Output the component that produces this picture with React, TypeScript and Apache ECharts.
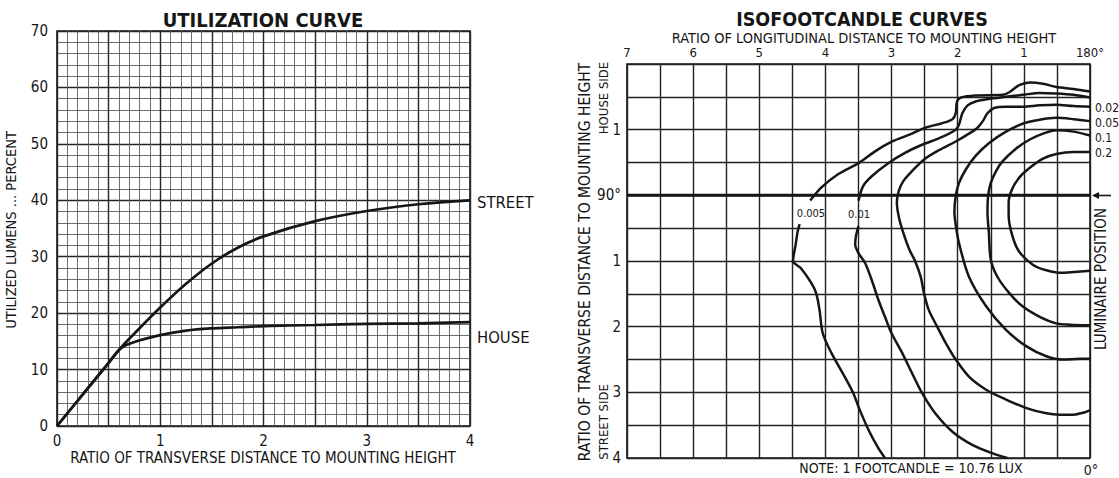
import React, { useEffect, useRef } from 'react';
import * as echarts from 'echarts';

const FONT = "'Liberation Sans Narrow', 'DejaVu Sans Condensed', 'Liberation Sans', sans-serif";
const INK = '#161616';

// ---------- Utilization curve ----------
const utilX = [0, 0.25, 0.5, 0.62, 0.75, 1, 1.25, 1.5, 1.75, 2, 2.5, 3, 3.5, 4];
const streetY = [0, 5.6, 11.2, 13.9, 16.4, 21, 25.2, 28.8, 31.6, 33.6, 36.3, 38.1, 39.3, 40];
const houseY = [0, 5.6, 11.2, 13.8, 14.9, 16.1, 16.9, 17.3, 17.5, 17.7, 17.9, 18.1, 18.2, 18.4];

// ---------- Isofootcandle curves: [longitudinal ratio, transverse ratio] (negative = house side) ----------
const iso0005Upper = [[0, -1.58], [0.25, -1.62], [0.51, -1.65], [0.71, -1.7], [0.91, -1.72], [1.07, -1.68], [1.22, -1.57], [1.32, -1.53], [1.73, -1.52], [1.95, -1.49], [2.01, -1.43], [2.03, -1.25], [2.08, -1.16], [2.23, -1.1], [2.49, -1.03], [2.74, -0.92], [2.99, -0.82], [3.25, -0.67], [3.5, -0.49], [3.81, -0.32], [4.06, -0.12], [4.23, 0.08]];
const iso0005Lower = [[4.39, 0.44], [4.42, 0.55], [4.45, 0.75], [4.49, 1.0], [4.37, 1.11], [4.21, 1.34], [4.14, 1.49], [4.09, 1.74], [4.04, 2.1], [3.91, 2.4], [3.71, 2.76], [3.58, 3.01], [3.5, 3.22], [3.35, 3.57], [3.2, 3.85], [3.1, 4.0]];
const iso001Upper = [[0, -1.49], [0.25, -1.53], [0.51, -1.55], [0.76, -1.56], [1.02, -1.53], [1.27, -1.5], [1.52, -1.47], [1.73, -1.43], [1.85, -1.37], [1.93, -1.25], [1.98, -1.08], [2.03, -1.0], [2.28, -0.87], [2.54, -0.77], [2.79, -0.65], [3.05, -0.49], [3.3, -0.29], [3.43, -0.14], [3.5, 0.08]];
const iso001Lower = [[3.5, 0.47], [3.54, 0.63], [3.55, 0.75], [3.5, 0.88], [3.4, 1.03], [3.3, 1.29], [3.2, 1.59], [3.1, 1.85], [3.0, 2.1], [2.84, 2.4], [2.69, 2.71], [2.54, 3.01], [2.34, 3.32], [2.08, 3.6], [1.78, 3.8], [1.47, 3.93], [1.25, 4.0]];
const iso002 = [[0, -1.35], [0.25, -1.36], [0.51, -1.38], [0.76, -1.37], [1.02, -1.35], [1.27, -1.35], [1.45, -1.33], [1.55, -1.25], [1.62, -1.13], [1.7, -1.03], [1.83, -0.94], [2.03, -0.82], [2.28, -0.69], [2.49, -0.56], [2.69, -0.37], [2.82, -0.22], [2.89, -0.07], [2.92, 0.11], [2.89, 0.33], [2.82, 0.58], [2.73, 0.83], [2.64, 1.01], [2.56, 1.24], [2.51, 1.49], [2.44, 1.74], [2.31, 2.0], [2.18, 2.25], [2.03, 2.5], [1.83, 2.76], [1.57, 2.96], [1.27, 3.11], [0.96, 3.24], [0.66, 3.32], [0.46, 3.34], [0.25, 3.34], [0.1, 3.31], [0, 3.27]];
const iso005 = [[0, -1.13], [0.25, -1.16], [0.51, -1.18], [0.76, -1.15], [1.02, -1.09], [1.27, -0.97], [1.52, -0.8], [1.73, -0.6], [1.88, -0.39], [1.98, -0.19], [2.03, 0.01], [2.05, 0.25], [2.03, 0.45], [1.98, 0.73], [1.83, 1.24], [1.57, 1.69], [1.27, 2.05], [0.96, 2.3], [0.66, 2.45], [0.41, 2.5], [0.15, 2.49], [0, 2.49]];
const iso01 = [[0, -0.91], [0.25, -0.97], [0.51, -0.99], [0.71, -0.94], [0.91, -0.85], [1.12, -0.71], [1.32, -0.52], [1.42, -0.37], [1.5, -0.19], [1.54, 0.01], [1.55, 0.26], [1.53, 0.55], [1.5, 0.98], [1.4, 1.24], [1.22, 1.49], [1.02, 1.69], [0.76, 1.85], [0.51, 1.95], [0.3, 1.97], [0, 1.98]];
const iso02 = [[0, -0.66], [0.25, -0.66], [0.51, -0.63], [0.71, -0.56], [0.91, -0.42], [1.07, -0.27], [1.18, -0.09], [1.23, 0.11], [1.23, 0.31], [1.17, 0.63], [1.07, 0.86], [0.86, 1.06], [0.66, 1.14], [0.41, 1.18], [0.15, 1.16], [0, 1.15]];
const luminaireAxis = [[0, 0], [7, 0]];

const isoCurves = [iso0005Upper, iso0005Lower, iso001Upper, iso001Lower, iso002, iso005, iso01, iso02];

function txt(x: number, y: number, text: string, size: number, opts: any = {}) {
  return {
    type: 'text',
    x,
    y,
    rotation: opts.rotation || 0,
    style: {
      text,
      fontSize: size,
      fontFamily: FONT,
      fontWeight: opts.bold ? 'bold' : 'normal',
      fill: INK,
      align: opts.align || 'center',
      verticalAlign: 'middle',
    },
    z: 10,
  };
}

export default function App() {
  const ref = useRef<HTMLDivElement>(null);
  useEffect(() => {
    document.body.style.margin = '0';
    const chart = echarts.init(ref.current!, null, { renderer: 'svg' });
    const lineSeries = (data: number[][], xi: number, w: number, smooth: number) => ({
      type: 'line',
      xAxisIndex: xi,
      yAxisIndex: xi,
      data,
      smooth,
      symbol: 'none',
      silent: true,
      lineStyle: { color: INK, width: w },
      z: 5,
    });
    const option: any = {
      animation: false,
      backgroundColor: '#ffffff',
      textStyle: { fontFamily: FONT },
      grid: [
        { left: 57, top: 31, width: 413, height: 395, show: true, borderColor: INK, borderWidth: 1.6, backgroundColor: 'transparent' },
        { left: 627, top: 64, width: 463, height: 394, show: true, borderColor: INK, borderWidth: 1.6, backgroundColor: 'transparent' },
      ],
      xAxis: [
        {
          gridIndex: 0, type: 'value', min: 0, max: 4, interval: 0.5,
          axisLine: { show: false }, axisTick: { show: false },
          axisLabel: { formatter: (v: number) => (Number.isInteger(v) ? String(v) : ''), fontSize: 15, color: INK, margin: 7, fontFamily: FONT },
          splitLine: { show: true, lineStyle: { color: '#262626', width: 1.4 } },
          minorTick: { show: false, splitNumber: 5 },
          minorSplitLine: { show: true, lineStyle: { color: '#5e5e5e', width: 0.9 } },
        },
        {
          gridIndex: 1, type: 'value', min: 0, max: 7, interval: 0.5, inverse: true, position: 'top',
          axisLine: { show: false }, axisTick: { show: false },
          axisLabel: { formatter: (v: number) => (v === 0 ? '180°' : Number.isInteger(v) ? String(v) : ''), fontSize: 13, color: INK, margin: 5, fontFamily: FONT },
          splitLine: { show: true, lineStyle: { color: '#222', width: 1.4 } },
        },
      ],
      yAxis: [
        {
          gridIndex: 0, type: 'value', min: 0, max: 70, interval: 10,
          axisLine: { show: false }, axisTick: { show: false },
          axisLabel: { fontSize: 15, color: INK, margin: 9, fontFamily: FONT },
          splitLine: { show: true, lineStyle: { color: '#262626', width: 1.4 } },
          minorTick: { show: false, splitNumber: 5 },
          minorSplitLine: { show: true, lineStyle: { color: '#5e5e5e', width: 0.9 } },
        },
        {
          gridIndex: 1, type: 'value', min: -2, max: 4, interval: 0.5, inverse: true,
          axisLine: { show: false }, axisTick: { show: false },
          axisLabel: {
            formatter: (v: number) => (v === 0 ? '90°' : v === -2 ? '' : Number.isInteger(v) ? String(Math.abs(v)) : ''),
            fontSize: 15, color: INK, margin: 6, fontFamily: FONT,
          },
          splitLine: { show: true, lineStyle: { color: '#222', width: 1.4 } },
        },
      ],
      series: [
        lineSeries(utilX.map((x, i) => [x, streetY[i]]), 0, 2.7, 0.35),
        lineSeries(utilX.map((x, i) => [x, houseY[i]]), 0, 2.7, 0.35),
        lineSeries(luminaireAxis, 1, 3, 0),
        ...isoCurves.map((c) => lineSeries(c, 1, 2.5, 0.3)),
      ],
      graphic: [
        txt(263, 20, 'UTILIZATION CURVE', 20, { bold: true }),
        txt(11, 230, 'UTILIZED LUMENS ... PERCENT', 14.5, { rotation: Math.PI / 2 }),
        txt(263, 458, 'RATIO OF TRANSVERSE DISTANCE TO MOUNTING HEIGHT', 15),
        txt(477, 202, 'STREET', 16.5, { align: 'left' }),
        txt(477, 337, 'HOUSE', 16.5, { align: 'left' }),
        txt(862, 19, 'ISOFOOTCANDLE CURVES', 19.5, { bold: true }),
        txt(864, 38, 'RATIO OF LONGITUDINAL DISTANCE TO MOUNTING HEIGHT', 14.5),
        txt(585, 262, 'RATIO OF TRANSVERSE DISTANCE TO MOUNTING HEIGHT', 15.5, { rotation: Math.PI / 2 }),
        txt(603, 98, 'HOUSE SIDE', 13, { rotation: Math.PI / 2 }),
        txt(603, 422, 'STREET SIDE', 13, { rotation: Math.PI / 2 }),
        txt(1101, 279, 'LUMINAIRE POSITION', 15, { rotation: Math.PI / 2 }),
        txt(1095, 108, '0.02', 12, { align: 'left' }),
        txt(1095, 123, '0.05', 12, { align: 'left' }),
        txt(1095, 138, '0.1', 12, { align: 'left' }),
        txt(1095, 153, '0.2', 12, { align: 'left' }),
        txt(811, 213, '0.005', 11),
        txt(859, 214, '0.01', 11),
        txt(911, 468, 'NOTE: 1 FOOTCANDLE = 10.76 LUX', 14),
        txt(1091, 470, '0°', 14),
        {
          type: 'line', z: 10,
          shape: { x1: 1096, y1: 195.5, x2: 1111, y2: 195.5 },
          style: { stroke: INK, lineWidth: 1.6 },
        },
        {
          type: 'polygon', z: 10,
          shape: { points: [[1092, 195.5], [1099, 192], [1099, 199]] },
          style: { fill: INK },
        },
      ],
    };
    chart.setOption(option);
    return () => chart.dispose();
  }, []);
  return <div ref={ref} style={{ width: 1119, height: 478, background: '#fff' }} />;
}
